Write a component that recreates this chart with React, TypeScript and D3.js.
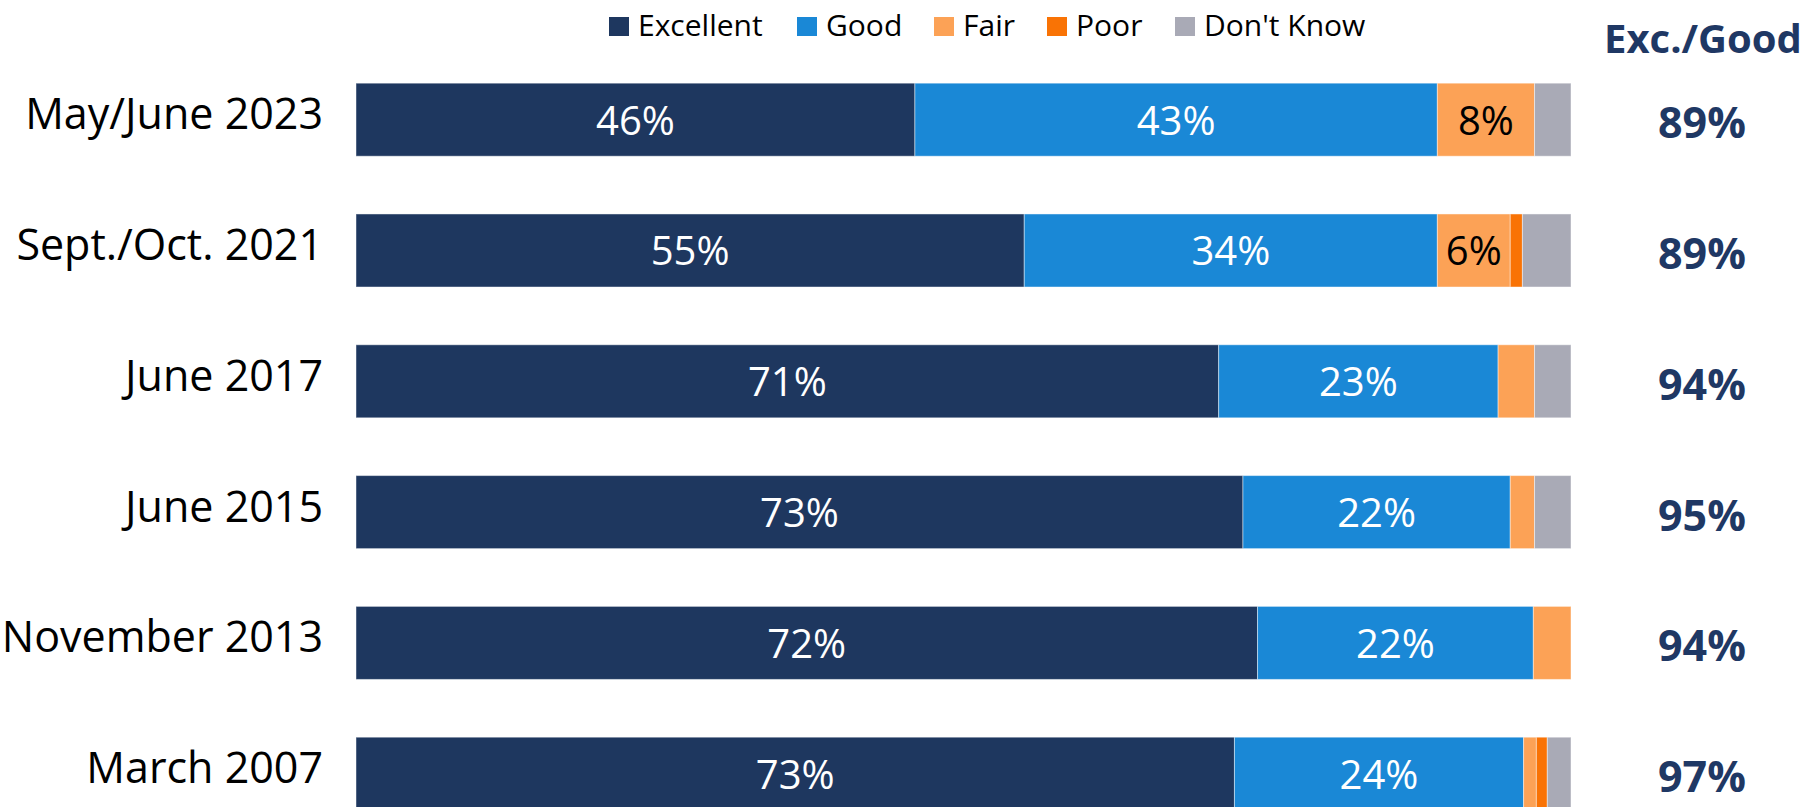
import React, { useEffect, useRef } from 'react';
import * as d3 from 'd3';

const categories = ['May/June 2023', 'Sept./Oct. 2021', 'June 2017', 'June 2015', 'November 2013', 'March 2007'];
const seriesNames = ['Excellent', 'Good', 'Fair', 'Poor', "Don't Know"];
const colors = ['#1e375f', '#1a88d6', '#fca256', '#f97305', '#a9aab6'];

// segment widths
const excellent = [46, 55, 71, 73, 74.2, 72.3];
const good = [43, 34, 23, 22, 22.7, 23.8];
const fair = [8, 6, 3, 2, 3.1, 1.05];
const poor = [0, 1, 0, 0, 0, 0.9];
const dontKnow = [3, 4, 3, 3, 0, 1.95];

// labels printed inside the bars
const excellentLabels = ['46%', '55%', '71%', '73%', '72%', '73%'];
const goodLabels = ['43%', '34%', '23%', '22%', '22%', '24%'];
const fairLabels = ['8%', '6%', '', '', '', ''];

const excGood = [89, 89, 94, 95, 94, 97];

export default function App() {
  const ref = useRef(null);

  useEffect(() => {
    const svg = d3.select(ref.current);
    svg.selectAll('*').remove();

    const x = d3.scaleLinear().domain([0, 100]).range([356, 1571]);
    const y = d3.scaleBand().domain(categories).range([54.4, 839]).paddingInner(0.4417).paddingOuter(0.22);

    const series = [excellent, good, fair, poor, dontKnow];
    const labels = [excellentLabels, goodLabels, fairLabels, null, null];
    const font = "'Open Sans', sans-serif";

    // legend
    const legendX = [609, 797, 934, 1047, 1175];
    const legend = svg.append('g');
    seriesNames.forEach((name, i) => {
      legend.append('rect')
        .attr('x', legendX[i]).attr('y', 17)
        .attr('width', 20).attr('height', 19)
        .attr('fill', colors[i]);
      legend.append('text')
        .attr('x', legendX[i] + 29).attr('y', 36)
        .attr('font-family', font).attr('font-size', 30)
        .attr('fill', '#000')
        .text(name);
    });

    // header
    svg.append('text')
      .attr('x', 1703).attr('y', 53)
      .attr('text-anchor', 'middle')
      .attr('font-family', font).attr('font-size', 40).attr('font-weight', 700)
      .attr('fill', '#1f3864')
      .text('Exc./Good');

    categories.forEach((cat, ci) => {
      const top = y(cat);
      const h = y.bandwidth();
      const cy = top + h / 2;
      let acc = 0;
      series.forEach((vals, si) => {
        const v = vals[ci];
        if (v > 0) {
          svg.append('rect')
            .attr('x', x(acc)).attr('y', top)
            .attr('width', x(acc + v) - x(acc)).attr('height', h)
            .attr('fill', colors[si])
            .attr('stroke', '#ffffff').attr('stroke-opacity', 0.45).attr('stroke-width', 1);
          const lab = labels[si] ? labels[si][ci] : '';
          if (lab) {
            svg.append('text')
              .attr('x', (x(acc) + x(acc + v)) / 2).attr('y', cy + 15)
              .attr('text-anchor', 'middle')
              .attr('font-family', font).attr('font-size', 40)
              .attr('fill', si < 2 ? '#fff' : '#000')
              .text(lab);
          }
        }
        acc += v;
      });

      svg.append('text')
        .attr('x', 323).attr('y', cy + 9.5)
        .attr('text-anchor', 'end')
        .attr('font-family', font).attr('font-size', 43)
        .attr('fill', '#000')
        .text(cat);

      svg.append('text')
        .attr('x', 1702).attr('y', cy + 18.5)
        .attr('text-anchor', 'middle')
        .attr('font-family', font).attr('font-size', 43).attr('font-weight', 700)
        .attr('fill', '#1f3864')
        .text(excGood[ci] + '%');
    });
  }, []);

  return (
    <svg ref={ref} width={1808} height={807}
      style={{ position: 'absolute', left: 0, top: 0, background: '#fff', overflow: 'hidden' }} />
  );
}
